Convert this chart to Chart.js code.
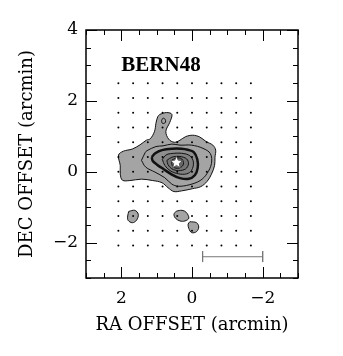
<!DOCTYPE html>
<html>
<head>
<meta charset="utf-8">
<title>BERN48</title>
<script src="https://cdn.jsdelivr.net/npm/chart.js@4.4.1/dist/chart.umd.min.js"></script>
<style>
  html, body { margin: 0; padding: 0; background: #fff; }
</style>
</head>
<body>
<canvas id="mycanvas" width="343" height="356"></canvas>
<script>
// source label and sampled map positions (arcmin, 25" grid)
var sourceName = 'BERN48';
var raGrid = [2.083, 1.667, 1.25, 0.833, 0.417, 0, -0.417, -0.833, -1.25, -1.667];
var decGrid = [2.5, 2.083, 1.667, 1.25, 0.833, 0.417, 0, -0.417, -0.833, -1.25, -1.667, -2.083];

// protostar position
var starPos = [0.44, 0.26];

// contour levels as [ra, dec] in arcmin
var contour1 = [[0.91,1.62],[0.72,1.67],[0.57,1.62],[0.63,1.39],[0.74,1.14],[0.66,0.92],[0.50,0.83],
  [0.34,0.89],[0.18,0.99],[-0.02,1.03],[-0.22,0.98],[-0.40,0.85],[-0.59,0.75],[-0.67,0.61],
  [-0.65,0.41],[-0.64,0.18],[-0.55,-0.07],[-0.43,-0.27],[-0.25,-0.42],[-0.01,-0.48],[0.29,-0.54],
  [0.51,-0.56],[0.68,-0.45],[0.85,-0.31],[1.11,-0.25],[1.43,-0.21],[1.76,-0.25],[1.97,-0.24],
  [2.03,-0.07],[2.03,0.17],[2.08,0.47],[1.94,0.58],[1.69,0.64],[1.47,0.76],[1.29,0.89],
  [1.18,0.93],[1.06,1.14],[1.02,1.37],[0.97,1.55]];
var contour1b = [[0.86,1.45],[0.82,1.51],[0.76,1.48],[0.75,1.40],[0.80,1.36],[0.85,1.38]];
var contour2 = [[1.43,0.32],[1.32,0.55],[1.28,0.59],[1.02,0.71],[0.82,0.73],[0.57,0.78],[0.34,0.75],
  [0.01,0.75],[-0.31,0.66],[-0.52,0.51],[-0.55,0.23],[-0.42,-0.06],[-0.23,-0.25],[0.08,-0.37],
  [0.39,-0.41],[0.57,-0.35],[0.77,-0.17],[1.05,-0.01],[1.31,0.13]];
var contour3 = [[1.14,0.41],[1.04,0.52],[0.85,0.61],[0.57,0.65],[0.29,0.65],[0.12,0.62],[-0.05,0.55],
  [-0.15,0.35],[-0.16,0.10],[-0.08,-0.10],[0.09,-0.20],[0.34,-0.18],[0.57,-0.08],[0.80,0.07],
  [0.99,0.20],[1.11,0.30]];
var contour4 = [[0.84,0.35],[0.74,0.47],[0.61,0.51],[0.29,0.52],[0.06,0.45],[-0.04,0.27],[0.01,0.04],
  [0.15,-0.06],[0.38,-0.06],[0.62,0.03],[0.77,0.18]];
var contour5 = [[0.71,0.32],[0.57,0.41],[0.34,0.43],[0.15,0.36],[0.10,0.22],[0.18,0.08],[0.38,0.03],
  [0.57,0.08],[0.68,0.20]];
var contour6 = [[0.57,0.33],[0.43,0.39],[0.29,0.36],[0.24,0.22],[0.34,0.11],[0.49,0.11],[0.57,0.20]];
var blobA = [[1.79,-1.12],[1.62,-1.09],[1.52,-1.20],[1.57,-1.37],[1.69,-1.44],[1.81,-1.37],[1.82,-1.25]];
var blobB = [[0.44,-1.11],[0.28,-1.09],[0.16,-1.15],[0.09,-1.31],[0.20,-1.39],[0.34,-1.39],[0.47,-1.31],[0.51,-1.20]];
var blobC = [[0.06,-1.41],[-0.13,-1.44],[-0.19,-1.56],[-0.13,-1.69],[0.01,-1.72],[0.09,-1.60],[0.11,-1.48]];

// 0.1 pc scale bar
var scaleBarRA = [-0.3, -2.0];
var scaleBarDec = -2.4;
var scaleBarCap = [-2.24, -2.55];

// axes
var raRange = [-3, 3];
var decRange = [-3, 4];
var tickStep = 0.5;
var labelStep = 2;

function toPts(arr) {
  var p = arr.map(function(d) { return {x: d[0], y: d[1]}; });
  p.push(p[0]);
  return p;
}

function contourSet(arr, fillCol, lw, ord) {
  return {
    data: toPts(arr),
    showLine: true,
    fill: fillCol ? 'shape' : false,
    backgroundColor: fillCol || 'rgba(0,0,0,0)',
    borderColor: '#111',
    borderWidth: lw,
    pointRadius: 0,
    tension: 0.35,
    order: ord
  };
}

function makeStar(r) {
  var s = Math.ceil(r * 2 + 4);
  var c = document.createElement('canvas');
  c.width = s; c.height = s;
  var g = c.getContext('2d');
  g.beginPath();
  for (var i = 0; i < 10; i++) {
    var rad = i % 2 === 0 ? r : r * 0.45;
    var ang = -Math.PI / 2 + i * Math.PI / 5;
    var px = s / 2 + rad * Math.cos(ang), py = s / 2 + rad * Math.sin(ang);
    if (i === 0) g.moveTo(px, py); else g.lineTo(px, py);
  }
  g.closePath();
  g.fillStyle = '#fff';
  g.fill();
  g.strokeStyle = '#555';
  g.lineWidth = 1;
  g.stroke();
  return c;
}

var gridPts = [];
for (var i in decGrid) {
  for (var j in raGrid) {
    gridPts.push({x: raGrid[j], y: decGrid[i]});
  }
}

function fmt(v) {
  if (Math.abs(v % labelStep) > 1e-9) return '';
  return v < 0 ? '\u2212' + Math.abs(v) : String(v);
}

/* frame with inward ticks on all four sides, plus the source label */
var frameTicks = {
  id: 'frameTicks',
  afterDraw: function(chart) {
    var ctx = chart.ctx, a = chart.chartArea;
    var xs = chart.scales.x, ys = chart.scales.y;
    ctx.save();
    ctx.strokeStyle = '#000';
    ctx.lineWidth = 1;
    ctx.beginPath();
    xs.ticks.forEach(function(t) {
      var px = Math.round(xs.getPixelForValue(t.value)) + 0.5;
      var len = Math.abs(t.value % labelStep) < 1e-9 ? 11 : 5;
      ctx.moveTo(px, a.bottom); ctx.lineTo(px, a.bottom - len);
      ctx.moveTo(px, a.top); ctx.lineTo(px, a.top + len);
    });
    ys.ticks.forEach(function(t) {
      var py = Math.round(ys.getPixelForValue(t.value)) + 0.5;
      var len = Math.abs(t.value % labelStep) < 1e-9 ? 11 : 5;
      ctx.moveTo(a.left, py); ctx.lineTo(a.left + len, py);
      ctx.moveTo(a.right, py); ctx.lineTo(a.right - len, py);
    });
    ctx.stroke();
    ctx.lineWidth = 1.5;
    ctx.strokeRect(a.left, a.top, a.right - a.left, a.bottom - a.top);

    ctx.fillStyle = '#000';
    ctx.font = 'bold 21px "Liberation Serif"';
    ctx.textBaseline = 'alphabetic';
    ctx.fillText(sourceName, xs.getPixelForValue(2.0), ys.getPixelForValue(2.84));
    ctx.restore();
  }
};

var ctx = document.getElementById('mycanvas');

var chart = new Chart(ctx, {
  type: 'scatter',
  data: {
    datasets: [
      { data: [{x: starPos[0], y: starPos[1]}], pointStyle: makeStar(6.5), pointRadius: 7, order: 0 },
      { data: gridPts, pointRadius: 1, pointBackgroundColor: '#000', pointBorderWidth: 0, order: 1 },
      { data: [{x: scaleBarRA[0], y: scaleBarDec}, {x: scaleBarRA[1], y: scaleBarDec}], showLine: true,
        borderColor: '#777', borderWidth: 1, pointRadius: 0, order: 2 },
      { data: [{x: scaleBarRA[0], y: scaleBarCap[0]}, {x: scaleBarRA[0], y: scaleBarCap[1]}], showLine: true,
        borderColor: '#777', borderWidth: 1, pointRadius: 0, order: 2 },
      { data: [{x: scaleBarRA[1], y: scaleBarCap[0]}, {x: scaleBarRA[1], y: scaleBarCap[1]}], showLine: true,
        borderColor: '#777', borderWidth: 1, pointRadius: 0, order: 2 },
      contourSet(contour6, '#686868', 1, 3),
      contourSet(contour5, '#747474', 1, 4),
      contourSet(contour4, '#808080', 1, 5),
      contourSet(contour3, '#8e8e8e', 2.5, 6),
      contourSet(contour2, null, 1, 7),
      contourSet(contour1b, null, 1, 8),
      contourSet(contour1, '#a4a4a4', 1, 9),
      contourSet(blobA, '#a4a4a4', 1, 9),
      contourSet(blobB, '#a4a4a4', 1, 9),
      contourSet(blobC, '#a4a4a4', 1, 9)
    ]
  },
  options: {
    responsive: false,
    animation: false,
    events: [],
    devicePixelRatio: 1,
    layout: { padding: { left: 0, right: 45, top: 30, bottom: 0 } },
    plugins: { legend: { display: false }, tooltip: { enabled: false } },
    scales: {
      x: {
        type: 'linear',
        reverse: true,
        min: raRange[0],
        max: raRange[1],
        grid: { display: false, drawTicks: false },
        border: { display: false },
        afterFit: function(s) { s.height = 78; },
        ticks: {
          stepSize: tickStep, autoSkip: false, maxRotation: 0, padding: 10,
          color: '#000', font: { family: '"DejaVu Serif"', size: 17 },
          callback: fmt
        },
        title: {
          display: true, text: 'RA OFFSET (arcmin)', color: '#000',
          font: { family: '"DejaVu Serif"', size: 18 }, padding: { bottom: 20 }
        }
      },
      y: {
        type: 'linear',
        min: decRange[0],
        max: decRange[1],
        grid: { display: false, drawTicks: false },
        border: { display: false },
        afterFit: function(s) { s.width = 86; },
        ticks: {
          stepSize: tickStep, autoSkip: false, padding: 8,
          color: '#000', font: { family: '"DejaVu Serif"', size: 17 },
          callback: fmt
        },
        title: {
          display: true, text: 'DEC OFFSET (arcmin)', color: '#000',
          font: { family: '"DejaVu Serif"', size: 18 }, padding: { top: 17 }
        }
      }
    }
  },
  plugins: [frameTicks]
});
</script>
</body>
</html>
